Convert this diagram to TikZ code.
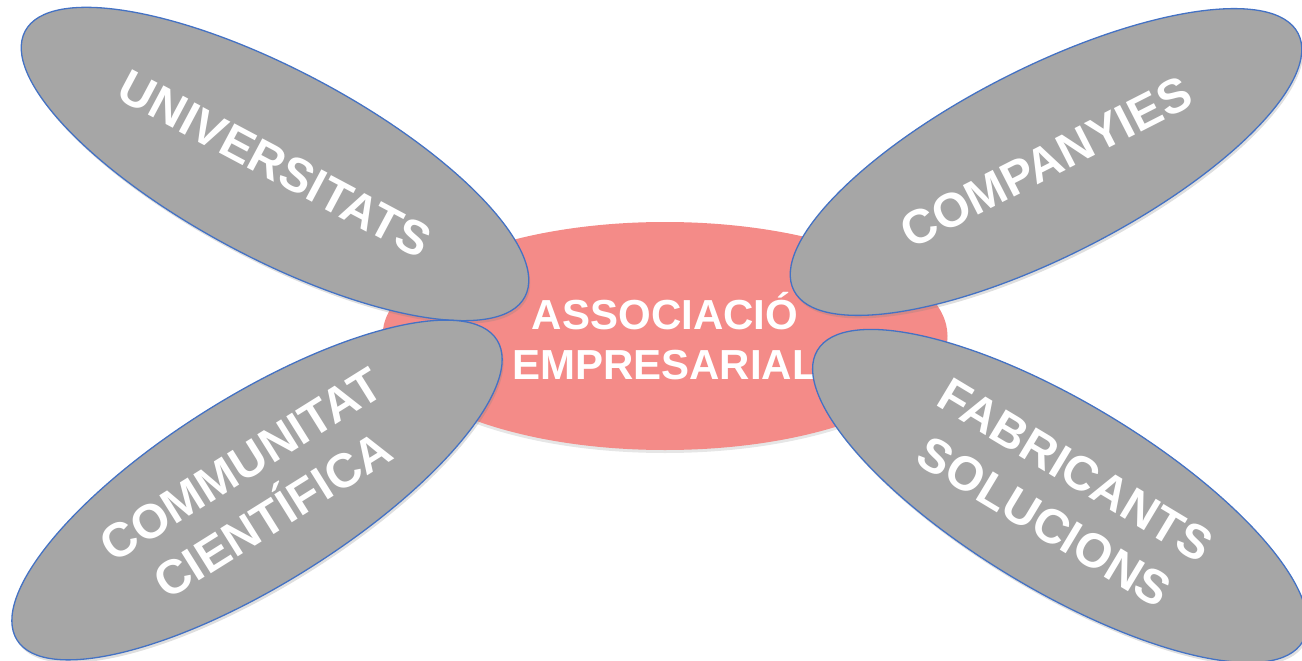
\documentclass[tikz,border=0pt]{standalone}
\usepackage{fontspec}
\setmainfont{Liberation Sans}
\usetikzlibrary{shapes.geometric,shadows}
\definecolor{petalgray}{RGB}{166,166,166}
\definecolor{petalblue}{RGB}{68,114,196}
\definecolor{corepink}{RGB}{244,139,136}
\tikzset{
  petal/.style={ellipse, draw=petalblue, line width=1.3pt, fill=petalgray,
    minimum width=566pt, minimum height=188pt, inner sep=0pt,
    text=white, font=\fontsize{48}{60}\selectfont\bfseries, align=center,
    drop shadow={opacity=0.25, shadow xshift=1.5pt, shadow yshift=-3pt}},
  core/.style={ellipse, fill=corepink, draw=none,
    minimum width=565pt, minimum height=228pt, inner sep=0pt,
    text=white, font=\fontsize{42}{50}\selectfont\bfseries, align=center,
    drop shadow={opacity=0.2, shadow xshift=0pt, shadow yshift=-3pt}}
}
\begin{document}
\begin{tikzpicture}[x=1pt,y=-1pt]
\useasboundingbox (0,0) rectangle (1302,661);
\node[core] (assoc) at (665,336) {ASSOCIACIÓ\\EMPRESARIAL};
\node[petal, rotate=-28] (univ) at (275,164) {UNIVERSITATS};
\node[petal, rotate=27] (comp) at (1046,162) {COMPANYIES};
\node[petal, rotate=32] (comm) at (257,490) {COMMUNITAT\\CIENTÍFICA};
\node[petal, rotate=-31] (fabr) at (1060,496) {FABRICANTS\\SOLUCIONS};
\end{tikzpicture}
\end{document}
